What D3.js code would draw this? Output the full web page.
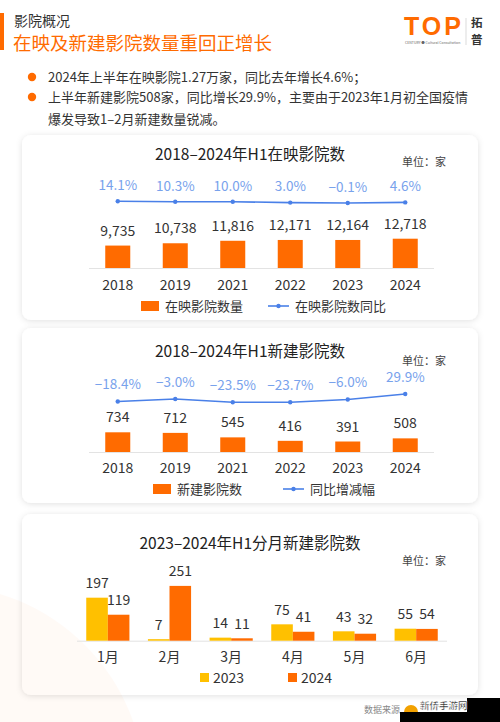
<!DOCTYPE html>
<html><head><meta charset="utf-8">
<script src="https://cdn.jsdelivr.net/npm/d3@7"></script>
<style>
body{margin:0;background:#fff;}
svg{display:block;font-family:"Noto Sans CJK SC","Noto Sans",sans-serif;}
</style></head>
<body><svg id="c" width="500" height="722"></svg>
<script>
// ---- data ----
const years = ["2018","2019","2021","2022","2023","2024"];
const screeningCinemas = [9735,10738,11816,12171,12164,12718];
const screeningYoY = [14.1,10.3,10.0,3.0,-0.1,4.6];
const newCinemas = [734,712,545,416,391,508];
const newYoY = [-18.4,-3.0,-23.5,-23.7,-6.0,29.9];
const months = ["1月","2月","3月","4月","5月","6月"];
const monthly2023 = [197,7,14,75,43,55];
const monthly2024 = [119,251,11,41,32,54];
const seriesNames = ["2023","2024"];
const bullets = ["2024年上半年在映影院1.27万家，同比去年增长4.6%；",
  "上半年新建影院508家，同比增长29.9%，主要由于2023年1月初全国疫情",
  "爆发导致1–2月新建数量锐减。"];

const ORANGE="#ff6b00", YELLOW="#ffc000", BLUE="#4a80e8", LBLUE="#78a2ec", TXT="#333";
const svg = d3.select("#c");
const defs = svg.append("defs");
const f = defs.append("filter").attr("id","sh").attr("x","-10%").attr("y","-10%").attr("width","120%").attr("height","125%");
f.append("feDropShadow").attr("dx",0).attr("dy",1).attr("stdDeviation",3).attr("flood-color","#000").attr("flood-opacity",0.12);

function txt(x,y,s,size,fill,anchor){
  return svg.append("text").attr("x",x).attr("y",y).attr("dy","0.36em").attr("font-size",size).attr("fill",fill||TXT).attr("text-anchor",anchor||"middle").text(s);
}

// header
svg.append("rect").attr("x",0).attr("y",13).attr("width",4).attr("height",37).attr("fill",ORANGE);
txt(14,21,"影院概况",14,TXT,"start");
txt(13,43,"在映及新建影院数量重回正增长",18.5,ORANGE,"start");
// logo
const lg = svg.append("g");
lg.append("text").attr("x",404).attr("y",35).attr("font-size",25).attr("font-weight","bold").attr("fill",ORANGE).attr("textLength",57).attr("font-family","Liberation Sans, Arial").text("TOP");
lg.append("text").attr("x",405).attr("y",44).attr("font-size",3.5).attr("fill","#666").text("CENTURY ● Cultural Consultation");
lg.append("line").attr("x1",466).attr("x2",466).attr("y1",18).attr("y2",45).attr("stroke","#ccc").attr("stroke-width",0.7);
lg.append("text").attr("x",471).attr("y",22.5).attr("dy","0.36em").attr("font-size",11.5).attr("font-weight","bold").attr("fill","#333").text("拓");
lg.append("text").attr("x",471).attr("y",40).attr("dy","0.36em").attr("font-size",11.5).attr("font-weight","bold").attr("fill","#333").text("普");

// bullets
const by=[77,97,119];
bullets.forEach((t,i)=>{
  if(i<2) svg.append("circle").attr("cx",32).attr("cy",by[i]).attr("r",4.2).attr("fill",ORANGE);
  txt(48,by[i],t,13,TXT,"start");
});

// panels
function panel(y,h){
  svg.append("rect").attr("x",22).attr("y",y).attr("width",456).attr("height",h).attr("rx",9).attr("fill","#fff").attr("filter","url(#sh)");
}
panel(135,185); panel(328,175); panel(514,181);
// faint decorative circle
svg.append("circle").attr("cx",-60).attr("cy",790).attr("r",205).attr("fill",ORANGE).attr("opacity",0.035);

function comboChart(o){
  txt(250,o.titleY,o.title,15.5,"#222");
  txt(446,o.unitY,"单位：家",11,"#444","end");
  const x = d3.scaleBand().domain(years).range([89,434]).paddingInner(0.565).paddingOuter(0.2826);
  const y = d3.scaleLinear().domain([0,o.barMax]).range([o.base,o.base-o.barPx]);
  const yl = d3.scaleLinear().domain([-40,40]).range(o.lineRange);
  svg.append("line").attr("x1",89).attr("x2",434).attr("y1",o.base+0.5).attr("y2",o.base+0.5).attr("stroke","#e3e3e3");
  const g = svg.append("g");
  g.selectAll("rect").data(o.bars).join("rect")
    .attr("x",(d,i)=>x(years[i])).attr("width",x.bandwidth())
    .attr("y",d=>y(d)).attr("height",d=>o.base-y(d)).attr("fill",ORANGE);
  o.bars.forEach((d,i)=>txt(x(years[i])+x.bandwidth()/2,y(d)-15,d3.format(",")(d),14,TXT));
  const cx = i=>x(years[i])+x.bandwidth()/2;
  const line = d3.line().x((d,i)=>cx(i)).y(d=>yl(d));
  svg.append("path").attr("d",line(o.line)).attr("fill","none").attr("stroke",BLUE).attr("stroke-width",1.6);
  svg.selectAll(null).data(o.line).join("circle").attr("cx",(d,i)=>cx(i)).attr("cy",d=>yl(d)).attr("r",2.2).attr("fill",BLUE);
  o.line.forEach((d,i)=>txt(cx(i),yl(d)-o.lblOff,d.toFixed(1).replace("-","−")+"%",13.5,LBLUE));
  years.forEach((yr,i)=>txt(cx(i),o.yearY,yr,14,TXT));
  // legend
  svg.append("rect").attr("x",o.leg[0]).attr("y",o.legY-5).attr("width",18).attr("height",10).attr("fill",ORANGE);
  txt(o.leg[0]+24,o.legY,o.barName,13,TXT,"start");
  svg.append("line").attr("x1",o.leg[1]).attr("x2",o.leg[1]+21).attr("y1",o.legY).attr("y2",o.legY).attr("stroke",BLUE).attr("stroke-width",1.6);
  svg.append("circle").attr("cx",o.leg[1]+10.5).attr("cy",o.legY).attr("r",2.2).attr("fill",BLUE);
  txt(o.leg[1]+27,o.legY,o.lineName,13,TXT,"start");
}

comboChart({title:"2018–2024年H1在映影院数",titleY:154,unitY:162,base:268,barMax:14000,barPx:32.25,
  bars:screeningCinemas,line:screeningYoY,lineRange:[208.1,197.9],lblOff:16,yearY:285,legY:306,
  leg:[141,268],barName:"在映影院数量",lineName:"在映影院数同比"});
comboChart({title:"2018–2024年H1新建影院数",titleY:351,unitY:361,base:452,barMax:1000,barPx:26.84,
  bars:newCinemas,line:newYoY,lineRange:[404.8,392.4],lblOff:17,yearY:468,legY:489,
  leg:[153,283],barName:"新建影院数",lineName:"同比增减幅"});

// chart 3 grouped bars
txt(250,543,"2023–2024年H1分月新建影院数",15.5,"#222");
txt(446,561,"单位：家",11,"#444","end");
const base3=640.7;
const x0 = d3.scaleBand().domain(months).range([77,447]).paddingInner(0.3).paddingOuter(0.15);
const x1 = d3.scaleBand().domain(seriesNames).range([0,x0.bandwidth()]);
const y3 = d3.scaleLinear().domain([0,300]).range([base3,base3-65.5]);
const col = d3.scaleOrdinal().domain(seriesNames).range([YELLOW,ORANGE]);
svg.append("line").attr("x1",77).attr("x2",447).attr("y1",base3+0.5).attr("y2",base3+0.5).attr("stroke","#e3e3e3");
const groups = months.map((m,i)=>({m, vals:[{s:"2023",v:monthly2023[i]},{s:"2024",v:monthly2024[i]}]}));
const gg = svg.append("g").selectAll("g").data(groups).join("g").attr("transform",d=>`translate(${x0(d.m)},0)`);
gg.selectAll("rect").data(d=>d.vals).join("rect")
  .attr("x",d=>x1(d.s)).attr("width",x1.bandwidth()).attr("y",d=>y3(d.v)).attr("height",d=>base3-y3(d.v)).attr("fill",d=>col(d.s));
gg.selectAll("text").data(d=>d.vals).join("text")
  .attr("x",d=>x1(d.s)+x1.bandwidth()/2).attr("y",d=>y3(d.v)-14.5).attr("dy","0.36em")
  .attr("text-anchor","middle").attr("font-size",14).attr("fill",TXT).text(d=>d.v);
months.forEach(m=>txt(x0(m)+x0.bandwidth()/2,657,m,14,TXT));
[[200,"2023"],[288,"2024"]].forEach(([lx,s])=>{
  svg.append("rect").attr("x",lx).attr("y",673).attr("width",9).attr("height",9).attr("fill",col(s));
  txt(lx+13,678,s,14,TXT,"start");
});

// source + watermark
txt(364,710,"数据来源",9,"#888","start");
svg.append("rect").attr("x",400).attr("y",712).attr("width",100).attr("height",10).attr("fill","#000");
svg.append("rect").attr("x",467).attr("y",698).attr("width",33).attr("height",14).attr("fill","#000");
svg.append("path").attr("d","M404,712 A7,7 0 0 1 418,712 Z").attr("fill","#f2a100");
svg.append("text").attr("x",420).attr("y",709).attr("font-size",9.5).attr("font-weight","bold").attr("fill","#222")
  .attr("stroke","#fff").attr("stroke-width",0.4).text("新侨手游网");
</script></body></html>
